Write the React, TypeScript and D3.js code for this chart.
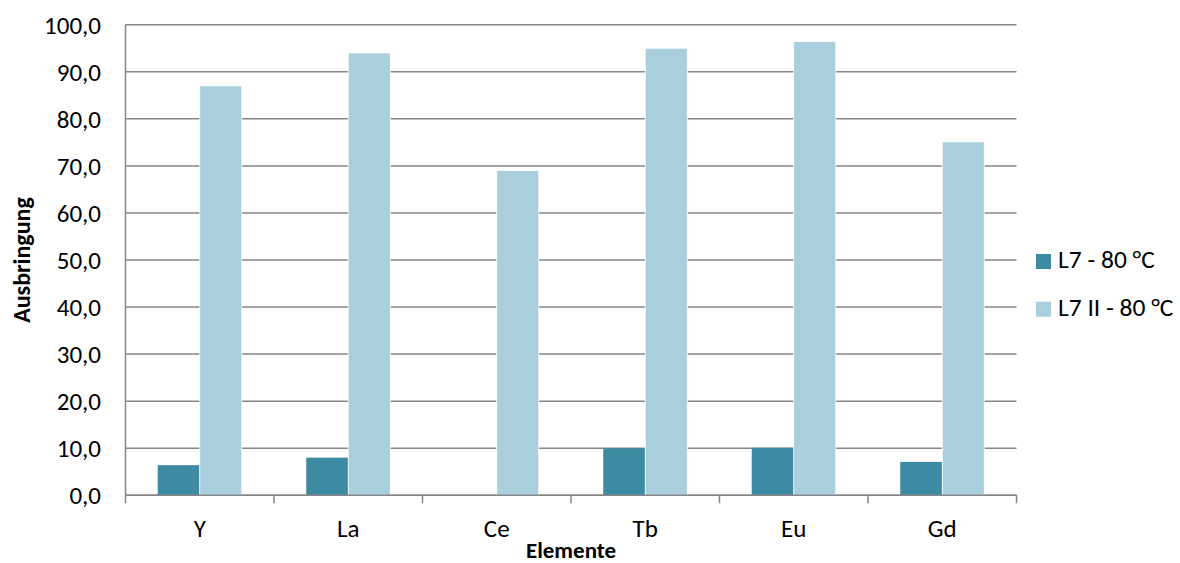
import React from "react";
import * as d3 from "d3";

const categories = ["Y", "La", "Ce", "Tb", "Eu", "Gd"];
const seriesNames = ["L7 - 80 °C", "L7 II - 80 °C"];
const seriesL7 = [6.4, 8.0, 0, 10.0, 10.1, 7.1];
const seriesL7II = [87.0, 94.0, 69.0, 95.0, 96.4, 75.1];
const yTicks = [0, 10, 20, 30, 40, 50, 60, 70, 80, 90, 100];
const colors = ["#3D8BA3", "#A9CEDC"];

export default function App() {
  const W = 1180, H = 563;
  const left = 125.5, right = 1016.5, top = 24.7, bottom = 495.3;
  const font = "Carlito, Calibri, Lato, 'Open Sans', sans-serif";
  const x = d3.scaleBand<string>().domain(categories).range([left, right]).paddingInner(0).paddingOuter(0);
  const y = d3.scaleLinear().domain([0, 100]).range([bottom, top]);
  const bw = x.bandwidth();
  const barW = bw * 0.283;
  const series = [seriesL7, seriesL7II];
  const fmt = (v: number) => v.toFixed(1).replace(".", ",");
  return (
    <svg width={W} height={H} style={{ position: "absolute", left: 0, top: 0, background: "#fff" }}>
      {yTicks.map((t) => (
        <g key={t}>
          <line x1={left} x2={right} y1={y(t)} y2={y(t)} stroke="#868686" strokeWidth={1.5} />
          <text x={101} y={y(t)} dy="0.36em" textAnchor="end" fontSize={25} fontFamily={font} fill="#000">
            {fmt(t)}
          </text>
        </g>
      ))}
      {categories.map((c, i) =>
        series.map((s, j) => {
          const v = s[i];
          if (!v) return null;
          const cx = (x(c) as number) + bw / 2;
          const x0 = cx - barW + j * barW;
          return (
            <rect key={c + j} x={x0} y={y(v)} width={barW} height={y(0) - y(v)} fill={colors[j]}
              stroke="#fff" strokeWidth={j === 1 ? 0.8 : 0} />
          );
        })
      )}
      <line x1={left} x2={left} y1={top} y2={bottom} stroke="#868686" strokeWidth={1.5} />
      <line x1={left} x2={right} y1={bottom} y2={bottom} stroke="#868686" strokeWidth={1.5} />
      {[...categories.map((c) => x(c) as number), right].map((tx, i) => (
        <line key={i} x1={tx} x2={tx} y1={bottom} y2={bottom + 8} stroke="#868686" strokeWidth={1.5} />
      ))}
      {categories.map((c) => (
        <text key={c} x={(x(c) as number) + bw / 2} y={537} textAnchor="middle" fontSize={25} fontFamily={font} fill="#000">
          {c}
        </text>
      ))}
      <text x={571} y={558} textAnchor="middle" fontSize={23} fontWeight="bold" fontFamily={font} fill="#000">
        Elemente
      </text>
      <text transform={`translate(30, ${(top + bottom) / 2}) rotate(-90)`} textAnchor="middle" fontSize={24}
        fontWeight="bold" fontFamily={font} fill="#000">
        Ausbringung
      </text>
      {seriesNames.map((n, i) => (
        <g key={n}>
          <rect x={1036} y={254 + i * 47.7} width={15} height={15} fill={colors[i]} />
          <text x={1058} y={268 + i * 47.7} fontSize={25.5} fontFamily={font} fill="#000">
            {n}
          </text>
        </g>
      ))}
    </svg>
  );
}
